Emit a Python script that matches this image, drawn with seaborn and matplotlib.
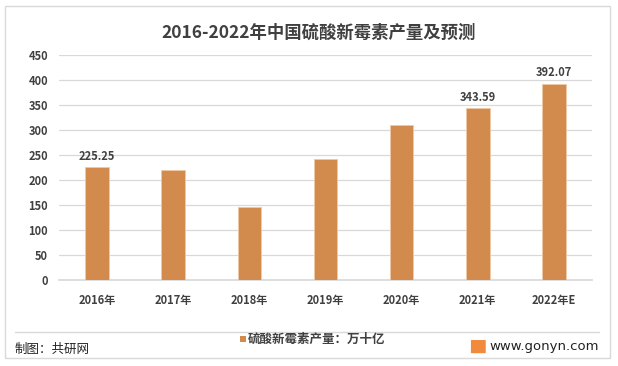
import matplotlib
matplotlib.use("Agg")
import matplotlib.pyplot as plt
import pandas as pd
import seaborn as sns
from matplotlib.patches import Rectangle, FancyBboxPatch
from matplotlib.lines import Line2D

years = ['2016年', '2017年', '2018年', '2019年', '2020年', '2021年', '2022年E']
output = [225.25, 219.3, 145.3, 241.3, 310.0, 343.59, 392.07]
shown_labels = {0: '225.25', 5: '343.59', 6: '392.07'}
series_name = '硫酸新霉素产量：万十亿'

sns.set_theme(style='white')
plt.rcParams['font.family'] = ['Noto Sans CJK SC', 'DejaVu Sans']

df = pd.DataFrame({'year': years, 'value': output})

fig = plt.figure(figsize=(6.18, 3.66), dpi=100)
ax = fig.add_axes([0.0955, 0.235, 0.8625, 0.615])

bar_color = '#D38B4D'
sns.barplot(data=df, x='year', y='value', color=bar_color, width=0.31,
            saturation=1, edgecolor='#F0C9A5', linewidth=0.6, ax=ax, zorder=3)

ax.set_ylim(0, 450)
ax.set_xlim(-0.5, len(years) - 0.5)
ax.set_yticks(range(0, 451, 50))
ax.grid(axis='y', color='#D9D9D9', linewidth=0.9, zorder=0)
for s in ['top', 'right', 'left']:
    ax.spines[s].set_visible(False)
ax.spines['bottom'].set_color('#D9D9D9')
ax.tick_params(axis='x', length=0, labelsize=8, colors='#404040', pad=10)
ax.tick_params(axis='y', length=0, labelsize=8, colors='#404040', pad=8)
for t in ax.get_xticklabels() + ax.get_yticklabels():
    t.set_fontweight('bold')
ax.set_xlabel('')
ax.set_ylabel('')

for i, txt in shown_labels.items():
    ax.text(i, output[i] + 9, txt, ha='center', va='bottom', fontsize=8,
            fontweight='bold', color='#404040')

fig.text(0.515, 0.91, '2016-2022年中国硫酸新霉素产量及预测', ha='center', va='center',
         fontsize=12.5, fontweight='bold', color='#404040')

# outer frame and separator
fig.patches.append(Rectangle((0.008, 0.022), 0.979, 0.962, transform=fig.transFigure,
                             fill=False, edgecolor='#D9D9D9', linewidth=1))
fig.lines.append(Line2D([0.024, 0.969], [0.093, 0.093], transform=fig.transFigure,
                        color='#D9D9D9', linewidth=1))

# legend
fig.patches.append(Rectangle((0.388, 0.066), 0.010, 0.017, transform=fig.transFigure,
                             facecolor=bar_color, edgecolor='none'))
fig.text(0.401, 0.074, series_name, ha='left', va='center', fontsize=9,
         fontweight='bold', color='#404040')

fig.text(0.024, 0.046, '制图：共研网', ha='left', va='center', fontsize=9, color='#222222')
fig.patches.append(FancyBboxPatch((0.763, 0.036), 0.022, 0.034, transform=fig.transFigure,
                                  boxstyle='round,pad=0.001', facecolor='#F08A3C',
                                  edgecolor='none'))
fig.text(0.969, 0.052, 'www.gonyn.com', ha='right', va='center', fontsize=9.5,
         color='#222222', family=['DejaVu Sans'])

fig.savefig('out.png', dpi=100)
